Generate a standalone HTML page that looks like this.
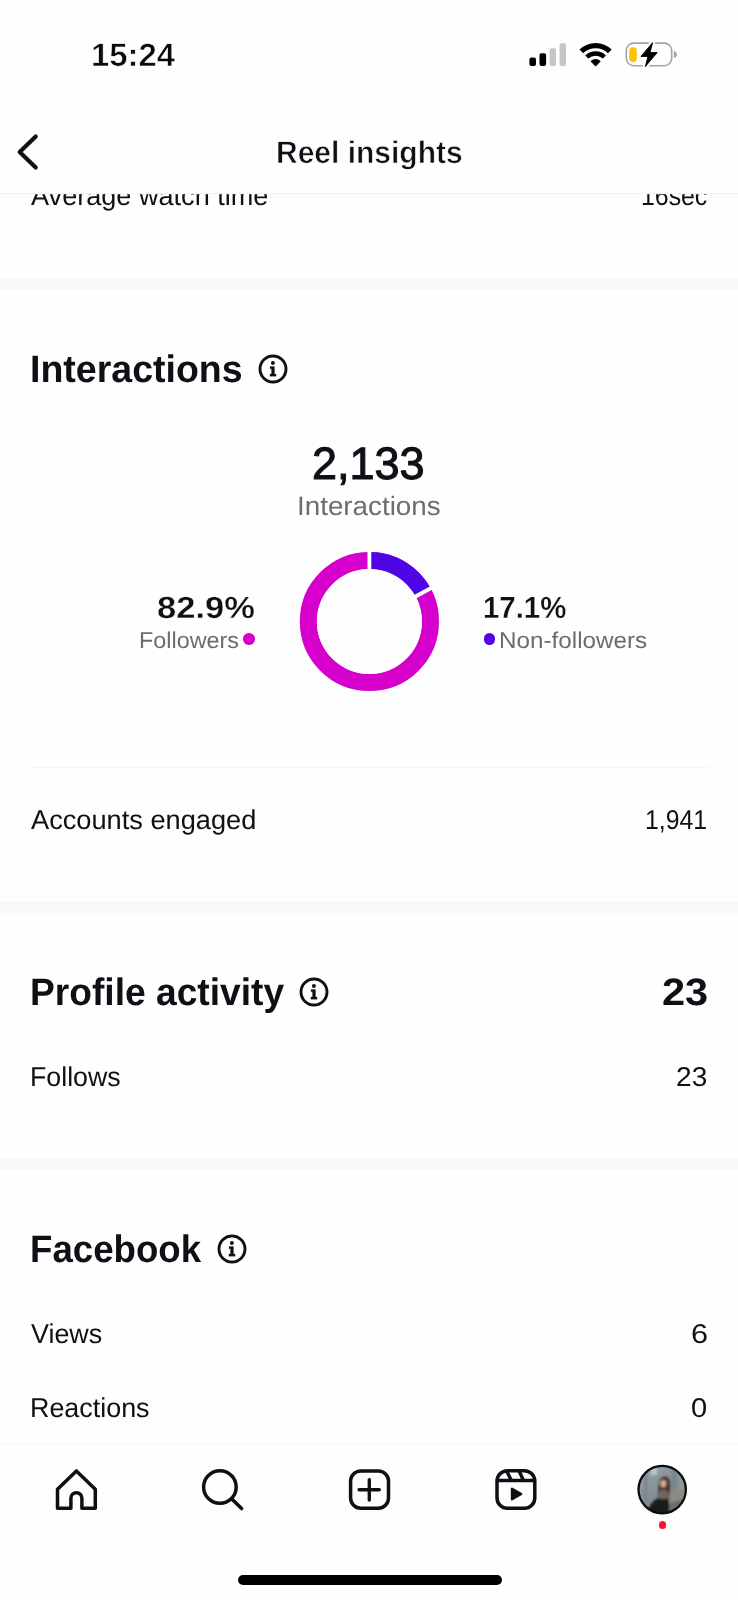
<!DOCTYPE html>
<html lang="en">
<head>
<meta charset="utf-8">
<title>Reel insights</title>
<style>
*{margin:0;padding:0;box-sizing:border-box}
html,body{width:738px;height:1600px;overflow:hidden;background:#fefefe}
body{position:relative;font-family:"Liberation Sans",Arial,Helvetica,sans-serif;color:#0d1014;text-rendering:geometricPrecision}
.t{position:absolute;white-space:nowrap;line-height:1;font-weight:400;transform-origin:0 0}
.b{font-weight:700}
svg{position:absolute;overflow:visible}
.dot{position:absolute;border-radius:50%}
</style>
</head>
<body>

<main id="content">
<!-- previous section, scrolled under the header -->
<section id="clip" style="position:absolute;left:0;top:194px;width:738px;height:40px;overflow:hidden">
<div class="t" id="cw" style="left:30.73px;top:-11.85px;font-size:27.2px;color:#0d1014;transform:scaleX(0.9965)">Average watch time</div>
<div class="t" id="cwv" style="left:640.60px;top:-11.85px;font-size:27.2px;color:#0d1014;transform:scaleX(0.9138)">16sec</div>
</section>

<!-- dividers between sections -->
<svg id="rules" width="738" height="1600" style="left:0;top:0" viewBox="0 0 738 1600">
  <rect x="0" y="193.1" width="738" height="1.1" fill="#f2f2f2"/>
  <rect x="0" y="278.2" width="738" height="11.6" fill="#f7f8f8"/>
  <rect x="30" y="766.7" width="678" height="1" fill="#f3f3f3"/>
  <rect x="0" y="901.6" width="738" height="11.4" fill="#f7f8f8"/>
  <rect x="0" y="1158.7" width="738" height="11.3" fill="#f7f8f8"/>
</svg>

<section id="interactions">
<h2 class="t b" id="h1" style="left:30.20px;top:350.91px;font-size:38.2px;color:#0d1014;transform:scaleX(0.9825)">Interactions</h2>
<svg id="i1" width="34" height="34" style="left:256.05px;top:351.50px" viewBox="-17 -17 34 34">
  <circle cx="0" cy="0" r="13" fill="none" stroke="#0d1014" stroke-width="2.9"/>
  <circle cx="-0.1" cy="-6" r="1.95" fill="#0d1014"/>
  <path d="M-2.9 -2.4 H1.45 V5 H3.05 V7.2 H-3.05 V5 H-1.45 V-0.2 H-2.9 Z" fill="#0d1014" stroke="#0d1014" stroke-width="0.3" stroke-linejoin="round"/>
</svg>
<div class="t" id="big" style="left:312.00px;top:440.95px;font-size:45.3px;color:#0d1014;transform:scaleX(0.9930);-webkit-text-stroke:1.1px #0d1014">2,133</div>
<div class="t" id="sub" style="left:296.76px;top:492.66px;font-size:26.6px;color:#6b6d72;transform:scaleX(1.0446)">Interactions</div>
<svg id="donut" width="160" height="160" style="left:289px;top:541px" viewBox="289 541 160 160">
  <circle cx="369.4" cy="621.5" r="61.05" fill="none" stroke="#d600cc" stroke-width="17.1"/>
  <path d="M369.4 560.45 A61.05 61.05 0 0 1 423.08 592.43" fill="none" stroke="#4f06e6" stroke-width="17.1"/>
  <path d="M369.4 621.5 L369.4 546.5 M369.4 621.5 L435.35 585.78" stroke="#fefefe" stroke-width="3.8" fill="none"/>
  <circle cx="369.4" cy="621.5" r="52.5" fill="#fefefe"/>
</svg>
<div class="t b" id="p1" style="left:156.83px;top:593.30px;font-size:30.6px;color:#0d1014;transform:scaleX(1.1278);-webkit-text-stroke:0.3px #fefefe">82.9%</div>
<div class="t" id="l1" style="left:138.93px;top:628.76px;font-size:22.9px;color:#6b6d72;transform:scaleX(1.0214)">Followers</div>
<div class="dot" style="left:243.3px;top:633.45px;width:11.5px;height:11.5px;background:#d600cc"></div>
<div class="t b" id="p2" style="left:483.11px;top:593.30px;font-size:30.6px;color:#0d1014;transform:scaleX(0.9595);-webkit-text-stroke:0.3px #fefefe">17.1%</div>
<div class="dot" style="left:483.9px;top:633.45px;width:11.5px;height:11.5px;background:#4f06e6"></div>
<div class="t" id="l2" style="left:498.93px;top:628.76px;font-size:22.9px;color:#6b6d72;transform:scaleX(1.0593)">Non-followers</div>
<div class="t" id="ae" style="left:30.97px;top:806.15px;font-size:27.2px;color:#0d1014;transform:scaleX(1.0005)">Accounts engaged</div>
<div class="t" id="aev" style="left:644.94px;top:806.15px;font-size:27.2px;color:#0d1014;transform:scaleX(0.9125)">1,941</div>
</section>

<section id="profile-activity">
<h2 class="t b" id="h2" style="left:30.41px;top:973.91px;font-size:38.2px;color:#0d1014;transform:scaleX(0.9734)">Profile activity</h2>
<svg id="i2" width="34" height="34" style="left:297.40px;top:974.50px" viewBox="-17 -17 34 34">
  <circle cx="0" cy="0" r="13" fill="none" stroke="#0d1014" stroke-width="2.9"/>
  <circle cx="-0.1" cy="-6" r="1.95" fill="#0d1014"/>
  <path d="M-2.9 -2.4 H1.45 V5 H3.05 V7.2 H-3.05 V5 H-1.45 V-0.2 H-2.9 Z" fill="#0d1014" stroke="#0d1014" stroke-width="0.3" stroke-linejoin="round"/>
</svg>
<div class="t b" id="h2v" style="left:662.02px;top:973.91px;font-size:38.2px;color:#0d1014;transform:scaleX(1.0877)">23</div>
<div class="t" id="fo" style="left:29.90px;top:1063.15px;font-size:27.2px;color:#0d1014;transform:scaleX(0.9837)">Follows</div>
<div class="t" id="fov" style="left:676.28px;top:1063.15px;font-size:27.2px;color:#0d1014;transform:scaleX(1.0334)">23</div>
</section>

<section id="facebook">
<h2 class="t b" id="h3" style="left:30.29px;top:1230.91px;font-size:38.2px;color:#0d1014;transform:scaleX(0.9594)">Facebook</h2>
<svg id="i3" width="34" height="34" style="left:215.45px;top:1231.80px" viewBox="-17 -17 34 34">
  <circle cx="0" cy="0" r="13" fill="none" stroke="#0d1014" stroke-width="2.9"/>
  <circle cx="-0.1" cy="-6" r="1.95" fill="#0d1014"/>
  <path d="M-2.9 -2.4 H1.45 V5 H3.05 V7.2 H-3.05 V5 H-1.45 V-0.2 H-2.9 Z" fill="#0d1014" stroke="#0d1014" stroke-width="0.3" stroke-linejoin="round"/>
</svg>
<div class="t" id="vi" style="left:30.80px;top:1320.15px;font-size:27.2px;color:#0d1014;transform:scaleX(0.9889)">Views</div>
<div class="t" id="viv" style="left:690.88px;top:1320.15px;font-size:27.2px;color:#0d1014;transform:scaleX(1.1271)">6</div>
<div class="t" id="re" style="left:29.80px;top:1394.15px;font-size:27.2px;color:#0d1014;transform:scaleX(0.9888)">Reactions</div>
<div class="t" id="rev" style="left:691.05px;top:1394.15px;font-size:27.2px;color:#0d1014;transform:scaleX(1.0680)">0</div>
</section>
</main>

<!-- status bar -->
<header id="statusbar">
<time class="t b" id="time" style="left:91.28px;top:38.87px;font-size:32.3px;color:#0a0a0a;transform:scaleX(1.0176);-webkit-text-stroke:0.6px #fefefe">15:24</time>
<svg id="status" width="738" height="90" style="left:0;top:0" viewBox="0 0 738 90">
  <rect x="529.4" y="57.6" width="6.6" height="8.3" rx="1.9" fill="#000"/>
  <rect x="539.5" y="53.2" width="6.6" height="12.7" rx="1.9" fill="#000"/>
  <rect x="549.6" y="48.2" width="6.4" height="17.7" rx="1.9" fill="#c6c6c6"/>
  <rect x="559.6" y="43.3" width="6.4" height="22.6" rx="1.9" fill="#c6c6c6"/>
  <path d="M595.60 66.10 L591.02 61.35 A6.6 6.6 0 0 1 600.18 61.35 Z" fill="#000" stroke="#000" stroke-width="1" stroke-linejoin="round"/>
  <path d="M585.25 55.38 A14.9 14.9 0 0 1 605.95 55.38 L602.82 58.62 A10.4 10.4 0 0 0 588.38 58.62 Z" fill="#000"/>
  <path d="M579.55 49.48 A23.1 23.1 0 0 1 611.65 49.48 L608.03 53.22 A17.9 17.9 0 0 0 583.17 53.22 Z" fill="#000"/>
  <rect x="626.3" y="43.1" width="45.4" height="22.6" rx="7.5" fill="none" stroke="#a3a3a3" stroke-width="1.6"/>
  <path d="M673.9 50.9 C675.9 51.5 676.9 53 676.9 54.5 C676.9 56 675.9 57.5 673.9 58.1 Z" fill="#a3a3a3"/>
  <rect x="629.2" y="47.2" width="7.6" height="14.7" rx="3.4" fill="#f7c600"/>
  <path d="M652.6 42.6 L641 56.4 H648 L645.3 66.6 L657.2 52.6 H650 Z" fill="#fefefe" stroke="#fefefe" stroke-width="5" stroke-linejoin="round"/>
  <path d="M652.6 42.6 L641 56.4 H648 L645.3 66.6 L657.2 52.6 H650 Z" fill="#000" stroke="#000" stroke-width="0.9" stroke-linejoin="round"/>
</svg>
</header>

<!-- navigation bar -->
<header id="navbar">
<svg id="back" width="60" height="60" style="left:0;top:122px" viewBox="0 122 60 60">
  <path d="M35.7 136.4 L19.7 152 L35.7 167.6" fill="none" stroke="#0d1014" stroke-width="4.2" stroke-linecap="round" stroke-linejoin="round"/>
</svg>
<h1 class="t b" id="title" style="left:276.13px;top:136.62px;font-size:31.4px;color:#0d1014;transform:scaleX(0.9553);-webkit-text-stroke:0.6px #fefefe">Reel insights</h1>
</header>

<!-- bottom tab bar -->
<nav id="tabbar">
<div id="nav" style="position:absolute;left:0;top:1443px;width:738px;height:157px;background:#fefefe;border-top:1px solid #f5f5f5"></div>
<svg id="ihome" width="60" height="60" style="left:46px;top:1460px" viewBox="46 1460 60 60">
  <path d="M70.9 1508.2 H57.5 V1489.2 L76.4 1470.9 L95.3 1489.2 V1508.2 H81.9 V1498.2 A5.5 5.5 0 0 0 70.9 1498.2 Z" fill="none" stroke="#0d1014" stroke-width="3.5" stroke-linejoin="round"/>
</svg>
<svg id="isearch" width="60" height="60" style="left:192px;top:1460px" viewBox="192 1460 60 60">
  <circle cx="219.9" cy="1487" r="16.3" fill="none" stroke="#0d1014" stroke-width="3.5"/>
  <path d="M231.6 1498.7 L241.6 1508.6" fill="none" stroke="#0d1014" stroke-width="3.5" stroke-linecap="round"/>
</svg>
<svg id="iplus" width="60" height="60" style="left:339px;top:1460px" viewBox="339 1460 60 60">
  <rect x="350.6" y="1470.9" width="37.9" height="37.4" rx="10.2" fill="none" stroke="#0d1014" stroke-width="3.5"/>
  <path d="M359.1 1489.7 H379.3 M369.3 1479.6 V1500" fill="none" stroke="#0d1014" stroke-width="3.4" stroke-linecap="round"/>
</svg>
<svg id="ireels" width="60" height="60" style="left:486px;top:1460px" viewBox="486 1460 60 60">
  <rect x="497" y="1470.7" width="37.8" height="37.6" rx="10.4" fill="none" stroke="#0d1014" stroke-width="3.5"/>
  <path d="M497 1480.5 H534.8 M506.5 1470.7 L511.4 1480.5 M519 1470.7 L523.5 1480.5" fill="none" stroke="#0d1014" stroke-width="3.4"/>
  <path d="M512 1488.8 V1499.2 L521.2 1494 Z" fill="#0d1014" stroke="#0d1014" stroke-width="2.4" stroke-linejoin="round"/>
</svg>
<svg id="avatar" width="60" height="60" style="left:632px;top:1460px" viewBox="632 1460 60 60">
  <defs>
    <clipPath id="avc"><circle cx="662.2" cy="1489.6" r="23.6"/></clipPath>
    <linearGradient id="avbg" x1="0" y1="0" x2="0.6" y2="1">
      <stop offset="0" stop-color="#9aa7ab"/><stop offset="0.45" stop-color="#87949a"/><stop offset="1" stop-color="#7b8587"/>
    </linearGradient>
    <filter id="avb" x="-20%" y="-20%" width="140%" height="140%"><feGaussianBlur stdDeviation="0.9"/></filter>
  </defs>
  <circle cx="662.2" cy="1489.6" r="23.8" fill="url(#avbg)"/>
  <g clip-path="url(#avc)">
   <g filter="url(#avb)">
    <rect x="651" y="1464" width="6" height="11" fill="#b9c6cb"/>
    <rect x="644" y="1474" width="3.5" height="30" fill="#7a878b"/>
    <rect x="672" y="1468" width="4" height="24" fill="#76858a"/>
    <rect x="679" y="1474" width="5" height="18" fill="#8d9a9c"/>
    <path d="M669 1494 L674 1489 L680 1490 L688 1486 L690 1516 L666 1516 Z" fill="#8c8a82"/>
    <path d="M670 1503 L684 1499 L688 1516 L668 1516 Z" fill="#6e6f69"/>
    <path d="M648 1509 Q652 1501 658 1498 L668 1496 Q670.5 1504 668.5 1516 L646 1516 Z" fill="#191c1f"/>
    <path d="M659 1490 Q664 1488 669.5 1491 L670 1497.5 Q664 1500.5 657.5 1498 Z" fill="#73655b"/>
    <path d="M659.6 1481 Q661 1476.2 665.5 1476.4 Q670 1477 670.3 1483 Q671 1490 669 1495 L666.5 1490 L660.5 1490 L658 1495 Q657.5 1488 659.6 1481 Z" fill="#4b3a33"/>
    <ellipse cx="663.3" cy="1483.6" rx="3" ry="3.7" fill="#cfa794"/>
   </g>
  </g>
  <circle cx="662.2" cy="1489.6" r="23.7" fill="none" stroke="#0b0d10" stroke-width="2.3"/>
</svg>
<div class="dot" id="reddot" style="left:658.5px;top:1521px;width:7.6px;height:7.6px;background:#f7142f"></div>
<div id="homebar" style="position:absolute;left:237.5px;top:1575px;width:264px;height:10px;border-radius:5px;background:#000"></div>
</nav>

</body>
</html>
